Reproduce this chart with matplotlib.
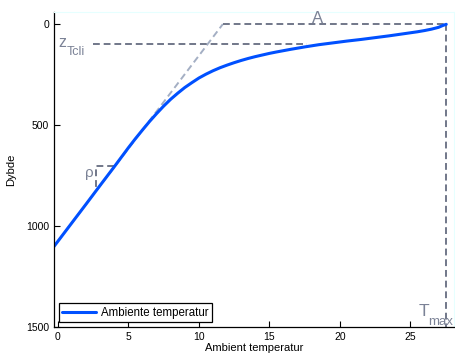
# %% imports

import matplotlib
matplotlib.use("Agg")
import matplotlib.pyplot as plt

plt.rcParams["font.family"] = ["Liberation Sans", "DejaVu Sans"]

# temperature profile (depth vs ambient temperature)
temps = [-0.28, 1, 2, 3, 4, 5, 5.5, 6, 6.5, 7, 7.5, 8, 8.5, 9, 9.5, 10, 10.5,
         11, 11.5, 12, 12.5, 13, 13.5, 14, 15, 15.5, 16.5, 17.5, 18.5, 19.5,
         20.5, 21.5, 22.5, 23.5, 24.5, 25.5, 26, 26.5, 27, 27.3, 27.55]
depths = [1101, 983, 891, 798, 706, 612, 567, 524, 482, 443, 406, 372, 342, 314,
          290, 267, 248, 231, 216, 203, 191, 180, 170, 161, 145, 138, 125, 113,
          102, 93, 84, 76, 67, 58, 48, 38, 32, 25, 16, 7, 1]

# construction lines
t_max = 27.55
z_tcli = 100
tangent_t = [0, 11.7]
tangent_z = [1075, 0]
rho_t = [4.01, 2.7, 2.7]
rho_z = [705, 705, 826]

dark = "#717789"
light = "#a4afc4"
txt = "#7b8296"
dash = (0, (3.5, 2))

fig = plt.figure(figsize=(4.55, 3.57), dpi=100)
ax = fig.add_axes([54 / 455, 1 - 327 / 357, 400 / 455, 315 / 357])

ax.plot(tangent_t, tangent_z, color=light, lw=1.4, linestyle=dash)
ax.plot([2.5, 17.7], [z_tcli, z_tcli], color=dark, lw=1.4, linestyle=dash)
ax.plot([11.7, t_max], [0, 0], color=dark, lw=1.4, linestyle=dash)
ax.plot([t_max, t_max], [0, 1500], color=dark, lw=1.4, linestyle=dash)
ax.plot(rho_t, rho_z, color=dark, lw=1.4, linestyle=dash)

ax.plot(temps, depths, color="#0050ff", lw=2.2, label="Ambiente temperatur",
        solid_capstyle="round", solid_joinstyle="round")

# annotation letters with hand placed subscripts
ax.text(0.0, 114, "z", color=txt, fontsize=11.5, va="baseline")
ax.text(0.64, 154, "Tcli", color=txt, fontsize=9, va="baseline")
ax.text(18.44, -5, "A", color=txt, fontsize=12, ha="center", va="baseline")
ax.text(25.6, 1444, "T", color=txt, fontsize=12.5, va="baseline")
ax.text(26.3, 1489, "max", color=txt, fontsize=9.5, va="baseline")
ax.text(2.2, 735, "ρ", color=txt, fontsize=11, ha="center", va="center")

ax.set_xlim(-0.28, 28.1)
ax.set_ylim(1500, -60)
ax.set_xticks([0, 5, 10, 15, 20, 25])
ax.set_yticks([0, 500, 1000, 1500])
ax.tick_params(direction="in", length=4, width=0.8, labelsize=7.5)
ax.set_xlabel("Ambient temperatur", fontsize=8, labelpad=1)
ax.set_ylabel("Dybde", fontsize=8, labelpad=7)

for side in ["top", "right"]:
    ax.spines[side].set_color("#e6ffff")
for side in ["left", "bottom"]:
    ax.spines[side].set_linewidth(0.9)

leg = ax.legend(loc="lower left", fontsize=8.3, fancybox=False, framealpha=1,
                edgecolor="black", handlelength=2.9, borderaxespad=0.4,
                borderpad=0.3, handletextpad=0.5)
leg.get_frame().set_linewidth(0.9)

plt.savefig("out.png", dpi=100)
